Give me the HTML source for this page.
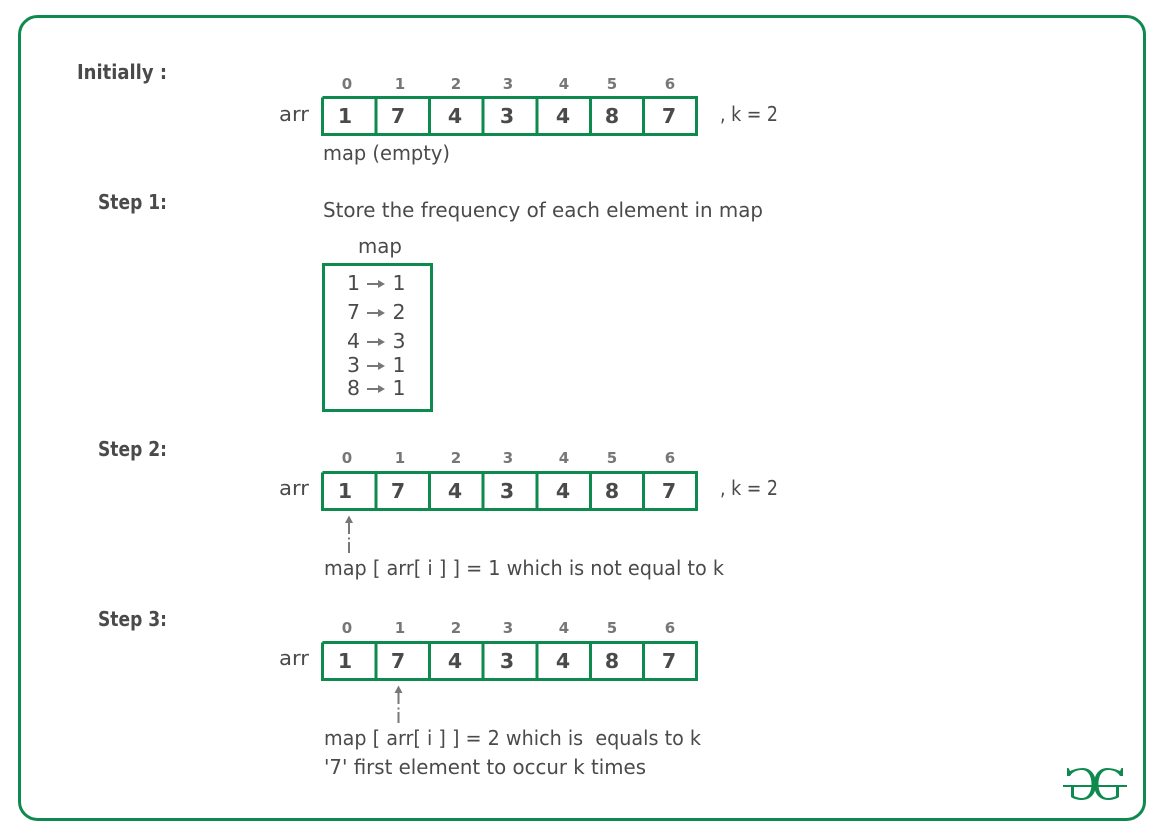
<!DOCTYPE html>
<html>
<head>
<meta charset="utf-8">
<style>
html,body{margin:0;padding:0;background:#fff}
svg{display:block}
text{font-family:"DejaVu Sans","Liberation Sans",sans-serif;fill:#4a4a4a}
.n{font-size:20.500px;font-weight:bold;text-anchor:middle}
.i{font-size:15px;font-weight:bold;text-anchor:middle;fill:#777}
.t{font-size:20.500px}
.b{font-size:20px;font-weight:bold}
.m{font-size:20.500px;text-anchor:middle}
.c{fill:none;stroke:#0f8a4f;stroke-width:3}
.a{stroke:#777;stroke-width:2;fill:none}
.h{fill:#777}
</style>
</head>
<body>
<svg width="1161" height="836" viewBox="0 0 1161 836" xmlns="http://www.w3.org/2000/svg">
<defs>
<g id="row">
<path class="c" d="M322.500 0V37H696.500V0H322.500M376 0V37M429.500 0V37M483 0V37M537 0V37M590.500 0V37M643.500 0V37"/>
</g>
<g id="ar">
<path class="a" d="M367 0H380" stroke-width="2.500"/>
<path class="h" d="M378 -4L385 0L378 4Z"/>
</g>
<path id="lg" fill="#0f8a4f" d="M1070 771C1074 769 1079 768 1083 768C1091 768 1096 775 1096 784C1096 793 1091 800 1082 800C1078 800 1074 799 1071 797V786H1074V796C1076 797 1079 798 1082 798C1088 798 1091.500 792 1091.500 784C1091.500 776 1088 770 1082 770C1078 770 1073 771 1070 776H1067V768H1068.500Z"/>
</defs>
<rect x="19.500" y="16.500" width="1125" height="803" rx="18" ry="18" class="c"/>

<text class="b" x="77" y="79" textLength="90" lengthAdjust="spacingAndGlyphs">Initially :</text>
<text class="b" x="98" y="209" textLength="69" lengthAdjust="spacingAndGlyphs">Step 1:</text>
<text class="b" x="98" y="456" textLength="69" lengthAdjust="spacingAndGlyphs">Step 2:</text>
<text class="b" x="98" y="626" textLength="69" lengthAdjust="spacingAndGlyphs">Step 3:</text>

<!-- Initial -->
<g>
<text class="i" x="347" y="89">0</text><text class="i" x="400" y="89">1</text><text class="i" x="456" y="89">2</text><text class="i" x="508" y="89">3</text><text class="i" x="564" y="89">4</text><text class="i" x="612" y="89">5</text><text class="i" x="670" y="89">6</text>
<text class="t" x="279" y="121" textLength="30" lengthAdjust="spacingAndGlyphs">arr</text>
<use href="#row" y="97.500"/>
<text class="n" x="345" y="123">1</text><text class="n" x="398" y="123">7</text><text class="n" x="455" y="123">4</text><text class="n" x="507" y="123">3</text><text class="n" x="563" y="123">4</text><text class="n" x="612" y="123">8</text><text class="n" x="669" y="123">7</text>
<text class="t" x="720" y="121" textLength="58" lengthAdjust="spacingAndGlyphs">, k = 2</text>
<text class="t" x="323" y="160" textLength="127" lengthAdjust="spacingAndGlyphs">map (empty)</text>
</g>

<!-- Step 1 -->
<text class="t" x="323" y="217" textLength="440" lengthAdjust="spacingAndGlyphs">Store the frequency of each element in map</text>
<text class="t" x="358" y="253" textLength="44" lengthAdjust="spacingAndGlyphs">map</text>
<rect x="323.500" y="264.500" width="108" height="146" class="c"/>
<text class="m" x="353.500" y="290">1</text><use href="#ar" y="284"/><text class="m" x="399" y="290">1</text>
<text class="m" x="353.500" y="319">7</text><use href="#ar" y="313"/><text class="m" x="399" y="319">2</text>
<text class="m" x="353.500" y="348">4</text><use href="#ar" y="342"/><text class="m" x="399" y="348">3</text>
<text class="m" x="353.500" y="372">3</text><use href="#ar" y="366"/><text class="m" x="399" y="372">1</text>
<text class="m" x="353.500" y="395">8</text><use href="#ar" y="389"/><text class="m" x="399" y="395">1</text>

<!-- Step 2 -->
<g>
<text class="i" x="347" y="463">0</text><text class="i" x="400" y="463">1</text><text class="i" x="456" y="463">2</text><text class="i" x="508" y="463">3</text><text class="i" x="564" y="463">4</text><text class="i" x="612" y="463">5</text><text class="i" x="670" y="463">6</text>
<text class="t" x="279" y="495" textLength="30" lengthAdjust="spacingAndGlyphs">arr</text>
<use href="#row" y="472.500"/>
<text class="n" x="345" y="498">1</text><text class="n" x="398" y="498">7</text><text class="n" x="455" y="498">4</text><text class="n" x="507" y="498">3</text><text class="n" x="563" y="498">4</text><text class="n" x="612" y="498">8</text><text class="n" x="669" y="498">7</text>
<text class="t" x="720" y="495" textLength="58" lengthAdjust="spacingAndGlyphs">, k = 2</text>
<path class="a" d="M349 521V534"/><path class="h" d="M349 515.500L353 523H345Z"/>
<path class="a" d="M349 542V553"/><rect class="h" x="348" y="537.500" width="2" height="2"/>
<text class="t" x="324" y="575" textLength="400" lengthAdjust="spacingAndGlyphs">map [ arr[ i ] ] = 1 which is not equal to k</text>
</g>

<!-- Step 3 -->
<g>
<text class="i" x="347" y="633">0</text><text class="i" x="400" y="633">1</text><text class="i" x="456" y="633">2</text><text class="i" x="508" y="633">3</text><text class="i" x="564" y="633">4</text><text class="i" x="612" y="633">5</text><text class="i" x="670" y="633">6</text>
<text class="t" x="279" y="665" textLength="30" lengthAdjust="spacingAndGlyphs">arr</text>
<use href="#row" y="642.500"/>
<text class="n" x="345" y="668">1</text><text class="n" x="398" y="668">7</text><text class="n" x="455" y="668">4</text><text class="n" x="507" y="668">3</text><text class="n" x="563" y="668">4</text><text class="n" x="612" y="668">8</text><text class="n" x="669" y="668">7</text>
<path class="a" d="M398.500 691V704"/><path class="h" d="M398.500 685.500L402.500 693H394.500Z"/>
<path class="a" d="M398.500 712V723"/><rect class="h" x="397.500" y="707.500" width="2" height="2"/>
<text class="t" x="324" y="745" textLength="377" xml:space="preserve" lengthAdjust="spacingAndGlyphs">map [ arr[ i ] ] = 2 which is  equals to k</text>
<text class="t" x="324" y="774" textLength="322" lengthAdjust="spacingAndGlyphs">'7' first element to occur k times</text>
</g>

<!-- Logo -->
<use href="#lg"/>
<use href="#lg" transform="translate(2190 0) scale(-1 1)"/>
<rect x="1063" y="785" width="64" height="2" fill="#0f8a4f"/>
</svg>
</body>
</html>
